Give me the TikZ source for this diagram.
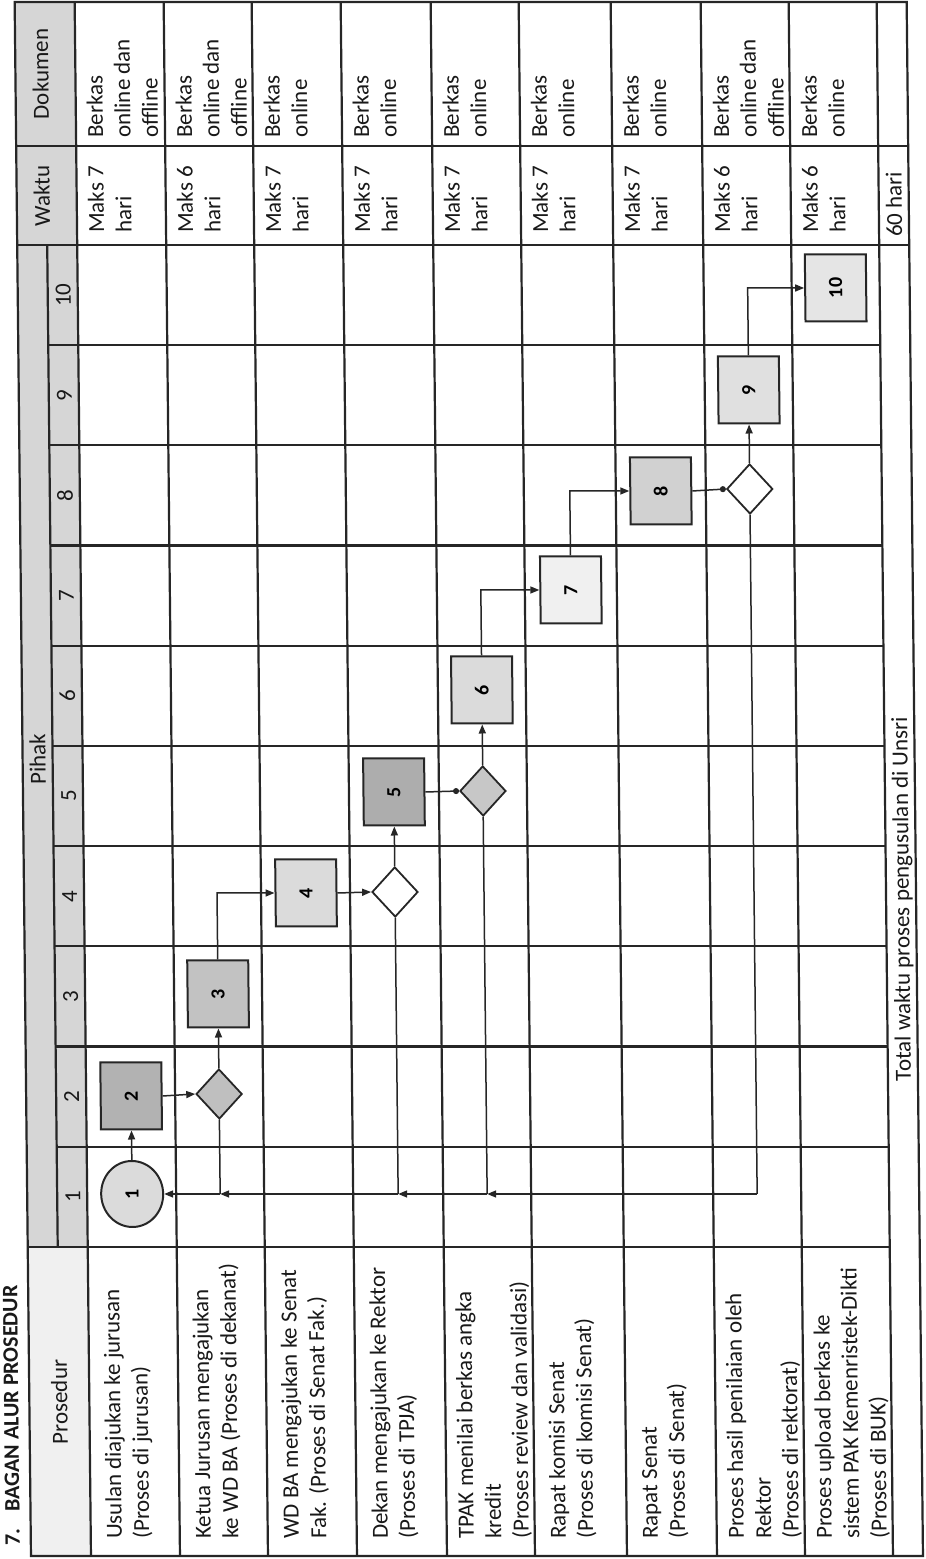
\documentclass[tikz,border=0pt]{standalone}
\usepackage{fontspec}
\setmainfont{Carlito}
\usetikzlibrary{arrows.meta,shapes.geometric}
\tikzset{
  grid/.style={line width=2.2pt, draw=black!85},
  txt/.style={inner sep=0pt, anchor=base west, font=\fontsize{23}{27.5}\selectfont, text=black!90},
  hdr/.style={inner sep=0pt, anchor=base, font=\fontsize{23}{27.5}\selectfont, text=black!90},
  stepbox/.style={rectangle, draw=black!85, line width=2pt, minimum width=67pt, minimum height=61pt, inner sep=0pt, font=\bfseries\fontsize{20}{20}\selectfont},
  decision/.style={diamond, draw=black!85, line width=1.8pt, minimum width=50pt, minimum height=46pt, inner sep=0pt},
  startnode/.style={ellipse, draw=black!85, line width=2pt, minimum width=66pt, minimum height=62pt, inner sep=0pt, fill=black!14, font=\bfseries\fontsize{20}{20}\selectfont},
  conn/.style={line width=1.5pt, draw=black!85, -{Triangle[length=9pt,width=7pt]}},
  dotconn/.style={line width=1.5pt, draw=black!85, -{Circle[length=6pt]}},
  plain/.style={line width=1.5pt, draw=black!85},
}
\newcommand\celltext[4]{\node[txt] (#1) at (#2,-#3) {#4};}
\begin{document}
\begin{tikzpicture}[x=1pt,y=1pt]
\useasboundingbox (0,0) rectangle (926,1559);
\fill[white] (0,0) rectangle (926,1559);
\begin{scope}[rotate=90, yslant=0.0105, transform shape]
% title
\node[inner sep=0pt, anchor=base west, font=\bfseries\fontsize{22}{22}\selectfont, text=black!90] (title) at (13,-20) {7.\hspace{17pt}BAGAN ALUR PROSEDUR};
% header shading
\fill[black!6] (3,-31) rectangle (312,-91);
\fill[black!16] (312,-31) rectangle (1557,-91);
% grid
\draw[grid] (3,-31) rectangle (1557,-923);
\draw[grid] (3,-91) -- (1557,-91);
\draw[grid] (312,-61) -- (1314,-61);
\foreach \yy in {180,268,357,447,535,627,717,805,893} \draw[grid] (3,-\yy) -- (1557,-\yy);
\draw[grid] (312,-31) -- (312,-893);
\foreach \k in {1,...,9} \draw[grid] ({312+100.2*\k},-61) -- ({312+100.2*\k},-893);
\draw[grid] (1314,-31) -- (1314,-923);
\draw[grid] (1413,-31) -- (1413,-923);
% header texts
\node[hdr] (hprosedur) at (157,-69) {Prosedur};
\node[hdr] (hpihak) at (800,-54) {Pihak};
\node[hdr] (hwaktu) at (1363,-64) {Waktu};
\node[hdr] (hdokumen) at (1485,-64) {Dokumen};
\foreach \i in {1,...,10} \node[hdr] (h\i) at ({312+100.2*(\i-0.5)},-84) {\i};
% Prosedur column
\celltext{p1a}{20}{122}{Usulan diajukan ke jurusan}
\celltext{p1b}{20}{149.5}{(Proses di jurusan)}
\celltext{p2a}{20}{211}{Ketua Jurusan mengajukan}
\celltext{p2b}{20}{238.5}{ke WD BA (Proses di dekanat)}
\celltext{p3a}{20}{299}{WD BA mengajukan ke Senat}
\celltext{p3b}{20}{326.5}{Fak. (Proses di Senat Fak.)}
\celltext{p4a}{20}{388}{Dekan mengajukan ke Rektor}
\celltext{p4b}{20}{415.5}{(Proses di TPJA)}
\celltext{p5a}{20}{474}{TPAK menilai berkas angka}
\celltext{p5b}{20}{501.5}{kredit}
\celltext{p5c}{20}{529}{(Proses review dan validasi)}
\celltext{p6a}{20}{566}{Rapat komisi Senat}
\celltext{p6b}{20}{593.5}{(Proses di komisi Senat)}
\celltext{p7a}{20}{658}{Rapat Senat}
\celltext{p7b}{20}{685.5}{(Proses di Senat)}
\celltext{p8a}{20}{744}{Proses hasil penilaian oleh}
\celltext{p8b}{20}{771.5}{Rektor}
\celltext{p8c}{20}{799}{(Proses di rektorat)}
\celltext{p9a}{20}{832}{Proses upload berkas ke}
\celltext{p9b}{20}{859.5}{sistem PAK Kemenristek-Dikti}
\celltext{p9c}{20}{887}{(Proses di BUK)}
% Waktu column
\celltext{w1a}{1326}{118}{Maks 7}\celltext{w1b}{1326}{145.5}{hari}
\celltext{w2a}{1326}{207}{Maks 6}\celltext{w2b}{1326}{234.5}{hari}
\celltext{w3a}{1326}{295}{Maks 7}\celltext{w3b}{1326}{322.5}{hari}
\celltext{w4a}{1326}{384}{Maks 7}\celltext{w4b}{1326}{411.5}{hari}
\celltext{w5a}{1326}{474}{Maks 7}\celltext{w5b}{1326}{501.5}{hari}
\celltext{w6a}{1326}{562}{Maks 7}\celltext{w6b}{1326}{589.5}{hari}
\celltext{w7a}{1326}{654}{Maks 7}\celltext{w7b}{1326}{681.5}{hari}
\celltext{w8a}{1326}{744}{Maks 6}\celltext{w8b}{1326}{771.5}{hari}
\celltext{w9a}{1326}{832}{Maks 6}\celltext{w9b}{1326}{859.5}{hari}
% Dokumen column
\celltext{k1a}{1421}{118}{Berkas}\celltext{k1b}{1421}{145.5}{online dan}\celltext{k1c}{1421}{173}{offline}
\celltext{k2a}{1421}{207}{Berkas}\celltext{k2b}{1421}{234.5}{online dan}\celltext{k2c}{1421}{262}{offline}
\celltext{k3a}{1421}{295}{Berkas}\celltext{k3b}{1421}{322.5}{online}
\celltext{k4a}{1421}{384}{Berkas}\celltext{k4b}{1421}{411.5}{online}
\celltext{k5a}{1421}{474}{Berkas}\celltext{k5b}{1421}{501.5}{online}
\celltext{k6a}{1421}{562}{Berkas}\celltext{k6b}{1421}{589.5}{online}
\celltext{k7a}{1421}{654}{Berkas}\celltext{k7b}{1421}{681.5}{online}
\celltext{k8a}{1421}{744}{Berkas}\celltext{k8b}{1421}{771.5}{online dan}\celltext{k8c}{1421}{799}{offline}
\celltext{k9a}{1421}{832}{Berkas}\celltext{k9b}{1421}{859.5}{online}
% total row
\node[hdr] (total) at (660,-916) {Total waktu proses pengusulan di Unsri};
\celltext{totw}{1322}{916}{60 hari}
% flow shapes
\node[startnode] (s1) at (365,-136) {1};
\node[stepbox, fill=black!30] (b2) at (463,-136) {2};
\node[decision, fill=black!25] (d2) at (465,-224) {};
\node[stepbox, fill=black!24] (b3) at (565,-224) {3};
\node[stepbox, fill=black!14] (b4) at (666,-313) {4};
\node[decision, fill=white] (d4) at (667,-402) {};
\node[stepbox, fill=black!32] (b5) at (767,-402) {5};
\node[decision, fill=black!22] (d5) at (768,-491) {};
\node[stepbox, fill=black!14] (b6) at (869,-491) {6};
\node[stepbox, fill=black!6] (b7) at (969,-581) {7};
\node[stepbox, fill=black!18] (b8) at (1068,-672) {8};
\node[decision, fill=white] (d8) at (1070,-761) {};
\node[stepbox, fill=black!12] (b9) at (1169,-761) {9};
\node[stepbox, fill=black!10] (b10) at (1271,-849) {10};
% connectors
\draw[conn] (s1.east) -- (b2.west);
\draw[conn] (b2.south) -- (d2.north);
\draw[conn] (d2.east) -- (b3.west);
\coordinate (k34) at (666,-224);
\draw[conn] (b3.east) -- (k34) -- (b4.north);
\draw[conn] (b4.south) -- (d4.north);
\draw[conn] (d4.east) -- (b5.west);
\draw[dotconn] (b5.south) -- (d5.north);
\draw[conn] (d5.east) -- (b6.west);
\coordinate (k67) at (969,-491);
\draw[conn] (b6.east) -- (k67) -- (b7.north);
\coordinate (k78) at (1068,-581);
\draw[conn] (b7.east) -- (k78) -- (b8.north);
\draw[dotconn] (b8.south) -- (d8.north);
\draw[conn] (d8.east) -- (b9.west);
\coordinate (k910) at (1271,-761);
\draw[conn] (b9.east) -- (k910) -- (b10.north);
% feedback trunk
\coordinate (t8) at (365,-761);
\coordinate (t5) at (365,-491);
\coordinate (t4) at (365,-402);
\coordinate (t2) at (365,-224);
\draw[plain] (d8.west) -- (t8);
\draw[conn] (t8) -- (t5);
\draw[plain] (d5.west) -- (t5);
\draw[conn] (t5) -- (t4);
\draw[plain] (d4.west) -- (t4);
\draw[conn] (t4) -- (t2);
\draw[plain] (d2.west) -- (t2);
\draw[conn] (t2) -- (s1.south);
\end{scope}
\end{tikzpicture}
\end{document}
